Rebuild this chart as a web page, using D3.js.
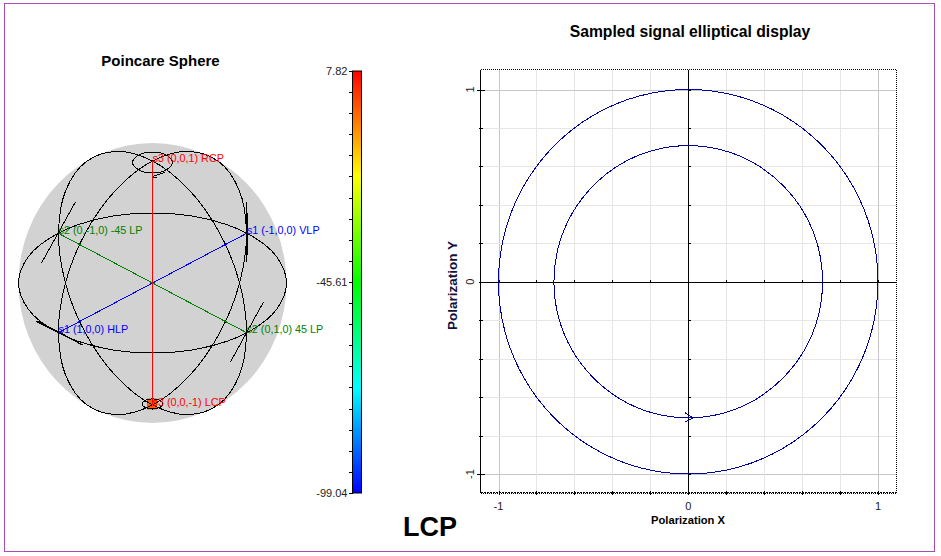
<!DOCTYPE html>
<html>
<head>
<meta charset="utf-8">
<script src="https://cdn.jsdelivr.net/npm/d3@7"></script>
<style>
html, body { margin: 0; padding: 0; background: #fff; }
svg { display: block; }
text { font-family: "Liberation Sans", Arial, sans-serif; }
line, path { shape-rendering: crispEdges; }
</style>
</head>
<body>
<svg width="941" height="556"></svg>
<script>
var width = 941, height = 556;

// sphere curves, in sphere units (-1..1)
var equatorX = [1, .924, .707, .383, 0, -.383, -.707, -.924, -1, -.924, -.707, -.383, 0, .383, .707, .924];
var equatorY = [0, .191, .354, .462, .5, .462, .354, .191, 0, -.191, -.354, -.462, -.5, -.462, -.354, -.191];
var meridianS2X = [0, -.268, -.496, -.648, -.701, -.648, -.496, -.268, 0, .268, .496, .648, .701, .648, .496, .268];
var meridianS2Y = [.871, .940, .866, .660, .354, -.006, -.366, -.670, -.871, -.940, -.866, -.660, -.354, .006, .366, .670];
var meridianS1X = [0, .268, .496, .648, .701, .648, .496, .268, 0, -.268, -.496, -.648, -.701, -.648, -.496, -.268];
var meridianS1Y = [.871, .940, .866, .660, .354, -.006, -.366, -.670, -.871, -.940, -.866, -.660, -.354, .006, .366, .670];
var topLoopX = [.149, .105, 0, -.105, -.149, -.105, 0, .105];
var topLoopY = [.861, .913, .935, .913, .861, .809, .787, .809];
var bottomLoopX = [.078, .055, 0, -.055, -.078, -.055, 0, .055];
var bottomLoopY = [-.864, -.839, -.828, -.839, -.864, -.889, -.900, -.889];

// [x1, y1, x2, y2] in sphere units
var stokesAxes = [
    {color: "#0000ff", seg: [-.701, -.354, .701, .354]},
    {color: "#008000", seg: [-.701, .354, .701, -.354]},
    {color: "#ff0000", seg: [0, .871, 0, -.871]}
];
var tangents = [
    [-.575, .579, -.828, .143],
    [.701, .579, .701, .15],
    [.708, .5, .708, .2],
    [-.873, -.271, -.522, -.443],
    [-.858, -.271, -.60, -.40],
    [.828, -.136, .582, -.564],
    [.097, .793, -.007, .757],
    [-.007, .757, .037, .757]
];
var sphereLabels = [
    {t: "s3 (0,0,1) RCP", x: 0, y: .89, c: "#ff0000"},
    {t: "s2 (0,-1,0) -45 LP", x: -.701, y: .375, c: "#008000"},
    {t: "s1 (-1,0,0) VLP", x: .705, y: .375, c: "#0000ff"},
    {t: "s1 (1,0,0) HLP", x: -.701, y: -.33, c: "#0000ff"},
    {t: "s2 (0,1,0) 45 LP", x: .701, y: -.33, c: "#008000"},
    {t: "s3 (0,0,-1) LCP", x: 0, y: -.857, c: "#ff0000"}
];

// colour bar
var barMin = -99.04, barMax = 7.82;
var barLabels = [7.82, -45.61, -99.04];
var barTicks = [7.82, 2.48, -2.86, -8.21, -13.55, -18.89, -24.23, -29.58, -34.92, -40.26, -45.61,
    -50.95, -56.29, -61.63, -66.98, -72.32, -77.66, -83.00, -88.35, -93.69, -99.04];
var barStops = ["#0000ff", "#00ffff", "#00ff00", "#ffff00", "#ff0000"];

// elliptical display samples
var outerX = [1, .966, .866, .707, .5, .259, 0, -.259, -.5, -.707, -.866, -.966, -1, -.966, -.866, -.707, -.5, -.259, 0, .259, .5, .707, .866, .966];
var outerY = [0, .259, .5, .707, .866, .966, 1, .966, .866, .707, .5, .259, 0, -.259, -.5, -.707, -.866, -.966, -1, -.966, -.866, -.707, -.5, -.259];
var innerX = [.708, .684, .613, .5, .354, .183, 0, -.183, -.354, -.5, -.613, -.684, -.708, -.684, -.613, -.5, -.354, -.183, 0, .183, .354, .5, .613, .684];
var innerY = [0, .183, .354, .5, .613, .684, .708, .684, .613, .5, .354, .183, 0, -.183, -.354, -.5, -.613, -.684, -.708, -.684, -.613, -.5, -.354, -.183];

var majorTicks = [-1, 0, 1];
var minorTicks = [-1, -.8, -.6, -.4, -.2, 0, .2, .4, .6, .8, 1];

var svg = d3.select("svg");

svg.append("rect")
    .attr("x", 4.5).attr("y", 3.5)
    .attr("width", 930).attr("height", 548)
    .attr("fill", "#fff")
    .attr("stroke", "#a64db5");

// ---- Poincare sphere ----
var sx = d3.scaleLinear().domain([-1, 1]).range([18.5, 286.5]);
var sy = d3.scaleLinear().domain([-1, 1]).range([423, 143]);

svg.append("text")
    .attr("x", 160.5).attr("y", 66)
    .attr("text-anchor", "middle")
    .attr("font-size", 15).attr("font-weight", "bold")
    .text("Poincare Sphere");

svg.append("ellipse")
    .attr("cx", sx(0)).attr("cy", sy(0))
    .attr("rx", sx(1) - sx(0)).attr("ry", sy(0) - sy(1))
    .attr("fill", "#d2d2d2");

// current state marker
svg.append("rect")
    .attr("x", sx(0) - 5.5).attr("y", sy(-.864) - 5.5)
    .attr("width", 10).attr("height", 11)
    .attr("fill", "#ff5a00");

var sphereLine = d3.line()
    .x(function (d) { return sx(d[0]); })
    .y(function (d) { return sy(d[1]); })
    .curve(d3.curveCatmullRomClosed);

[[equatorX, equatorY], [meridianS2X, meridianS2Y], [meridianS1X, meridianS1Y], [topLoopX, topLoopY], [bottomLoopX, bottomLoopY]]
    .forEach(function (c) {
        svg.append("path")
            .datum(d3.zip(c[0], c[1]))
            .attr("d", sphereLine)
            .attr("fill", "none")
            .attr("stroke", "#000")
            .attr("stroke-width", 1);
    });

svg.selectAll(".tangent")
    .data(tangents)
    .enter().append("line")
    .attr("class", "tangent")
    .attr("x1", function (d) { return sx(d[0]); })
    .attr("y1", function (d) { return sy(d[1]); })
    .attr("x2", function (d) { return sx(d[2]); })
    .attr("y2", function (d) { return sy(d[3]); })
    .attr("stroke", "#000")
    .attr("stroke-width", 1);

svg.selectAll(".stokes")
    .data(stokesAxes)
    .enter().append("line")
    .attr("class", "stokes")
    .attr("x1", function (d) { return sx(d.seg[0]); })
    .attr("y1", function (d) { return sy(d.seg[1]); })
    .attr("x2", function (d) { return sx(d.seg[2]); })
    .attr("y2", function (d) { return sy(d.seg[3]); })
    .attr("stroke", function (d) { return d.color; })
    .attr("stroke-width", 1);

svg.selectAll(".slabel")
    .data(sphereLabels)
    .enter().append("text")
    .attr("class", "slabel")
    .attr("x", function (d) { return sx(d.x); })
    .attr("y", function (d) { return sy(d.y); })
    .attr("dy", "0.32em")
    .attr("font-size", 10.8)
    .attr("fill", function (d) { return d.c; })
    .text(function (d) { return d.t; });

// ---- colour bar ----
var barY = d3.scaleLinear().domain([barMin, barMax]).range([493, 71]);

var grad = svg.append("defs").append("linearGradient")
    .attr("id", "barGrad")
    .attr("x1", 0).attr("y1", 1).attr("x2", 0).attr("y2", 0);
grad.selectAll("stop")
    .data(barStops)
    .enter().append("stop")
    .attr("offset", function (d, i) { return i / (barStops.length - 1); })
    .attr("stop-color", function (d) { return d; });

svg.append("rect")
    .attr("x", 352.5).attr("y", barY(barMax))
    .attr("width", 9).attr("height", barY(barMin) - barY(barMax))
    .attr("fill", "url(#barGrad)")
    .attr("stroke", "#000");

var barAxis = svg.append("g")
    .attr("transform", "translate(352.5,0)")
    .call(d3.axisLeft(barY)
        .tickValues(barTicks)
        .tickSize(4)
        .tickFormat(function (d) { return barLabels.indexOf(d) >= 0 ? d.toFixed(2) : ""; }));
barAxis.select(".domain").remove();
barAxis.selectAll("text")
    .attr("font-family", null)
    .attr("font-size", 11)
    .attr("fill", "#222")
    .attr("x", -5);

// ---- elliptical display ----
var px = d3.scaleLinear().domain([-1, 1]).range([498.5, 878]);
var py = d3.scaleLinear().domain([-1, 1]).range([474, 89.5]);
var left = 480.5, right = 896.5, top_ = 69.5, bottom = 492.5;

svg.append("text")
    .attr("x", 690).attr("y", 37)
    .attr("text-anchor", "middle")
    .attr("font-size", 15.7).attr("font-weight", "bold")
    .text("Sampled signal elliptical display");

function vGrid(v, color) {
    svg.append("line")
        .attr("x1", Math.round(px(v)) + .5).attr("x2", Math.round(px(v)) + .5)
        .attr("y1", top_).attr("y2", bottom)
        .attr("stroke", color);
}
function hGrid(v, color) {
    svg.append("line")
        .attr("x1", left).attr("x2", right)
        .attr("y1", Math.round(py(v)) + .5).attr("y2", Math.round(py(v)) + .5)
        .attr("stroke", color);
}
minorTicks.forEach(function (v) {
    var c = Math.abs(v) == 1 ? "#c6c6c6" : "#e6e6e6";
    vGrid(v, c);
    hGrid(v, c);
});

// frame: solid left, dotted top/right/bottom
svg.append("line").attr("x1", left).attr("x2", left).attr("y1", top_).attr("y2", bottom)
    .attr("stroke", "#000");
svg.append("path")
    .attr("d", "M" + left + "," + top_ + "H" + right + "V" + bottom)
    .attr("fill", "none").attr("stroke", "#000").attr("stroke-dasharray", "1,1");
svg.append("line").attr("x1", left).attr("x2", right).attr("y1", bottom).attr("y2", bottom)
    .attr("stroke", "#000").attr("stroke-dasharray", "2,1");
svg.append("line").attr("x1", left).attr("x2", right).attr("y1", bottom + 1).attr("y2", bottom + 1)
    .attr("stroke", "#000").attr("stroke-dasharray", "1,1");

// zero axes
svg.append("line").attr("x1", left).attr("x2", right)
    .attr("y1", Math.round(py(0)) + .5).attr("y2", Math.round(py(0)) + .5).attr("stroke", "#000");
svg.append("line").attr("x1", Math.round(px(0)) + .5).attr("x2", Math.round(px(0)) + .5)
    .attr("y1", top_).attr("y2", bottom).attr("stroke", "#000");

minorTicks.forEach(function (v) {
    var yv = Math.round(py(v)) + .5, xv = Math.round(px(v)) + .5;
    var big = Math.abs(v) == 1;
    // left axis
    svg.append("line").attr("x1", left - (big ? 4 : 2)).attr("x2", left + (big ? 4 : 2))
        .attr("y1", yv).attr("y2", yv).attr("stroke", "#000");
    // bottom axis
    svg.append("line").attr("x1", xv).attr("x2", xv)
        .attr("y1", bottom - 2).attr("y2", bottom + 2).attr("stroke", "#000");
    // ticks on the zero axes
    svg.append("line").attr("x1", Math.round(px(0)) + .5).attr("x2", Math.round(px(0)) + 3)
        .attr("y1", yv).attr("y2", yv).attr("stroke", "#000");
    svg.append("line").attr("x1", xv).attr("x2", xv)
        .attr("y1", Math.round(py(0)) + .5).attr("y2", Math.round(py(0)) - 2).attr("stroke", "#000");
});

var signalLine = d3.line()
    .x(function (d) { return px(d[0]); })
    .y(function (d) { return py(d[1]); })
    .curve(d3.curveCatmullRomClosed);

[[outerX, outerY], [innerX, innerY]].forEach(function (c) {
    svg.append("path")
        .datum(d3.zip(c[0], c[1]))
        .attr("d", signalLine)
        .attr("fill", "none")
        .attr("stroke", "#00009c")
        .attr("stroke-width", 1);
});

// direction arrow on the inner ellipse
var ax = px(0), ay = py(-.708);
svg.append("path")
    .attr("d", "M" + (ax - 3) + "," + (ay - 5) + "L" + (ax + 5) + "," + ay + "L" + (ax - 3) + "," + (ay + 4))
    .attr("fill", "none")
    .attr("stroke", "#00009c");

majorTicks.forEach(function (v) {
    svg.append("text")
        .attr("x", px(v)).attr("y", 510)
        .attr("text-anchor", "middle")
        .attr("font-size", 11).attr("fill", "#222")
        .text(v);
    svg.append("text")
        .attr("transform", "translate(474," + py(v) + ") rotate(-90)")
        .attr("text-anchor", "middle")
        .attr("font-size", 11).attr("fill", "#222")
        .text(v);
});

svg.append("text")
    .attr("x", 688).attr("y", 524)
    .attr("text-anchor", "middle")
    .attr("font-size", 11.2).attr("font-weight", "bold")
    .text("Polarization X");

svg.append("text")
    .attr("transform", "translate(456.5,285.5) rotate(-90)")
    .attr("text-anchor", "middle")
    .attr("font-size", 13.5).attr("font-weight", "bold")
    .attr("fill", "#14103c")
    .text("Polarization Y");

svg.append("text")
    .attr("x", 430).attr("y", 536)
    .attr("text-anchor", "middle")
    .attr("font-size", 27).attr("font-weight", "bold")
    .text("LCP");
</script>
</body>
</html>
